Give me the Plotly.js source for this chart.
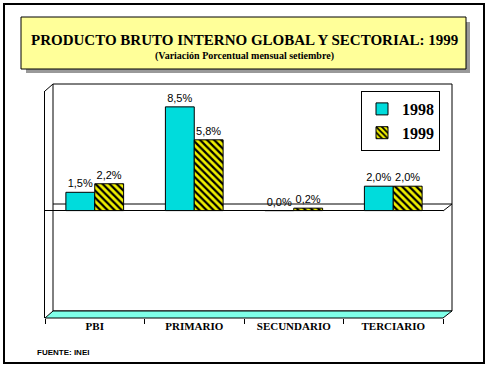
<!DOCTYPE html>
<html>
<head>
<meta charset="utf-8">
<script src="https://cdn.plot.ly/plotly-3.0.1.min.js"></script>
</head>
<body style="margin:0">
<div id="chart" style="width:487px;height:367px"></div>
<script>
const categories = ["PBI", "PRIMARIO", "SECUNDARIO", "TERCIARIO"];
const seriesNames = ["1998", "1999"];
const values1998 = [1.5, 8.5, 0.0, 2.0];
const values1999 = [2.2, 5.8, 0.2, 2.0];
const titleText = "PRODUCTO BRUTO INTERNO GLOBAL Y SECTORIAL: 1999";
const subtitleText = "(Variaci\u00f3n Porcentual mensual setiembre)";
const sourceText = "FUENTE: INEI";

function fmt(v){ return v.toFixed(1).replace(".", ",") + "%"; }

const SERIF = "Times New Roman";
const SANS = "Arial";

const W = 487, H = 367;
const L = 45, R = 443, T = 91, B = 318;
function px(x){ return (x - L) / (R - L); }
function py(y){ return (B - y) / (B - T); }

const labelFont = {family: SANS, size: 11, color: "#000"};

const traces = [
  {
    type: "bar", name: seriesNames[0], x: categories, y: values1998,
    text: values1998.map(fmt), textposition: "outside", cliponaxis: false,
    textfont: labelFont,
    marker: {color: "#00DCDC", line: {color: "#000", width: 1}}
  },
  {
    type: "bar", name: seriesNames[1], x: categories, y: values1999,
    text: values1999.map(fmt), textposition: "outside", cliponaxis: false,
    textfont: labelFont,
    marker: {color: "#E8E800", line: {color: "#000", width: 1},
      pattern: {shape: "\\", fgcolor: "#000", bgcolor: "#F0F000", size: 5, solidity: 0.45}}
  }
];

const shapes = [
  {type: "rect", xref: "paper", yref: "paper", x0: px(4), x1: px(484), y0: py(4), y1: py(363),
   line: {color: "#000", width: 2}, fillcolor: "rgba(0,0,0,0)", layer: "below"},
  {type: "rect", xref: "paper", yref: "paper", x0: px(26), x1: px(470), y0: py(22), y1: py(73),
   line: {width: 0}, fillcolor: "#999999", layer: "below"},
  {type: "rect", xref: "paper", yref: "paper", x0: px(21), x1: px(466), y0: py(17), y1: py(69),
   line: {color: "#000", width: 1}, fillcolor: "#FFFF99", layer: "below"},
  {type: "rect", xref: "paper", yref: "paper", x0: px(53), x1: px(452), y0: py(84), y1: py(311),
   line: {color: "#000", width: 1}, fillcolor: "#fff", layer: "below"},
  {type: "line", xref: "paper", yref: "paper", x0: px(45), x1: px(53), y0: py(91), y1: py(84),
   line: {color: "#000", width: 1}, layer: "below"},
  {type: "line", xref: "paper", yref: "paper", x0: px(53), x1: px(452), y0: py(204), y1: py(204),
   line: {color: "#000", width: 1}, layer: "below"},
  {type: "line", xref: "paper", yref: "paper", x0: px(443), x1: px(452), y0: py(211), y1: py(204),
   line: {color: "#000", width: 1}, layer: "below"},
  {type: "path", xref: "paper", yref: "paper",
   path: "M " + px(45) + "," + py(318) + " L " + px(443) + "," + py(318) + " L " + px(452) + "," + py(311) + " L " + px(53) + "," + py(311) + " Z",
   fillcolor: "#7FFFE8", line: {color: "#000", width: 1}, layer: "below"}
];

const annotations = [
  {xref: "paper", yref: "paper", x: px(245), y: py(40), text: titleText, showarrow: false,
   font: {family: SERIF, size: 15, weight: "bold"}, xanchor: "center", yanchor: "middle"},
  {xref: "paper", yref: "paper", x: px(244), y: py(56), text: subtitleText, showarrow: false,
   font: {family: SERIF, size: 10, weight: "bold"}, xanchor: "center", yanchor: "middle"},
  {xref: "paper", yref: "paper", x: px(35), y: py(352), text: sourceText, showarrow: false,
   font: {family: SANS, size: 8, weight: "bold"}, xanchor: "left", yanchor: "middle"}
];

const layout = {
  width: W, height: H,
  font: {family: SERIF, color: "#000"},
  margin: {l: L, r: W - R, t: T, b: H - B, pad: 0},
  paper_bgcolor: "#fff", plot_bgcolor: "rgba(0,0,0,0)",
  barmode: "group", bargap: 0.42, bargroupgap: 0,
  showlegend: true,
  legend: {x: px(361), y: py(91), xanchor: "left", yanchor: "top",
    bgcolor: "#fff", bordercolor: "#000", borderwidth: 1,
    font: {family: SERIF, size: 16, weight: "bold"},
    itemwidth: 30, tracegroupgap: 0},
  xaxis: {
    type: "category", showgrid: false, zeroline: false,
    showline: false, ticks: "outside", tickson: "boundaries", ticklen: 5, tickcolor: "#000",
    tickfont: {family: SERIF, size: 11, weight: "bold"}
  },
  yaxis: {
    range: [-8.8, 9.8], showgrid: false, showticklabels: false, ticks: "",
    zeroline: true, zerolinecolor: "#000", zerolinewidth: 1,
    showline: true, linecolor: "#000", linewidth: 1, mirror: false
  },
  shapes: shapes,
  annotations: annotations
};

Plotly.newPlot("chart", traces, layout, {displayModeBar: false});
</script>
</body>
</html>
